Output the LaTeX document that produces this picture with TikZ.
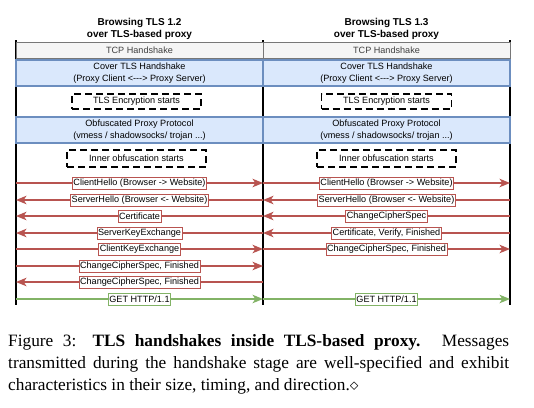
\documentclass[tikz,border=0pt]{standalone}
\usepackage{fontspec}
\setmainfont{Liberation Serif}
\setsansfont{Liberation Sans}
\usetikzlibrary{positioning,arrows.meta}
\definecolor{bandblue}{HTML}{DAE8FC}
\definecolor{bandedge}{HTML}{6C8EBF}
\definecolor{tcpfill}{HTML}{F5F5F5}
\definecolor{tcpedge}{HTML}{777777}
\definecolor{msgred}{HTML}{B85450}
\definecolor{msggreen}{HTML}{82B366}

\begin{document}
\begin{tikzpicture}[
  x=1pt, y=-1pt,
  font=\sffamily\fontsize{9.1}{11.6}\selectfont,
  life/.style={line width=1.6pt},
  tcp/.style={draw=tcpedge, fill=tcpfill, text=black!75, minimum width=247pt, minimum height=16pt, inner sep=0pt, line width=0.7pt},
  band/.style={draw=bandedge, fill=bandblue, minimum width=247pt, minimum height=26pt, inner sep=0pt, align=center, line width=1.2pt},
  stagebox/.style={draw, dash pattern=on 7pt off 4pt, line width=1.7pt, minimum height=15pt, inner sep=0pt},
  lbl/.style={draw=msgred, fill=white, inner sep=1pt, minimum height=12pt, line width=0.8pt},
  msg/.style={draw=msgred, line width=1.4pt, -{Stealth[length=10.5pt,width=8.5pt,inset=2.8pt]}},
  getmsg/.style={msg, draw=msggreen},
  getlbl/.style={lbl, draw=msggreen}
]
  \useasboundingbox (0,0) rectangle (534,407);

  % lifelines
  \coordinate (lA) at (16,40);
  \coordinate (lB) at (263,40);
  \coordinate (lC) at (510,40);
  \coordinate (lAe) at (16,305);
  \coordinate (lBe) at (263,305);
  \coordinate (lCe) at (510,305);
  \draw[life] (lA) -- (lAe);
  \draw[life] (lB) -- (lBe);
  \draw[life] (lC) -- (lCe);

  \node[font=\sffamily\bfseries\fontsize{10}{12}\selectfont, align=center] (titleA) at (139.5,29) {Browsing TLS 1.2\\over TLS-based proxy};
  \node[font=\sffamily\bfseries\fontsize{10}{12}\selectfont, align=center] (titleB) at (386.5,29) {Browsing TLS 1.3\\over TLS-based proxy};

  % stages
  \node[tcp] (tcpA) at (139.5,50) {TCP Handshake};
  \node[tcp] (tcpB) at (386.5,50) {TCP Handshake};
  \node[band] (coverA) at (139.5,73) {Cover TLS Handshake\\(Proxy Client <{-}{-}{-}> Proxy Server)};
  \node[band] (coverB) at (386.5,73) {Cover TLS Handshake\\(Proxy Client <{-}{-}{-}> Proxy Server)};
  \node[stagebox, minimum width=129pt] (encA) at (136.5,101.5) {TLS Encryption starts};
  \node[stagebox, minimum width=130pt] (encB) at (386.5,101.5) {TLS Encryption starts};
  \node[band] (obfA) at (139.5,130) {Obfuscated Proxy Protocol\\(vmess / shadowsocks/ trojan ...)};
  \node[band] (obfB) at (386.5,130) {Obfuscated Proxy Protocol\\(vmess / shadowsocks/ trojan ...)};
  \node[stagebox, minimum width=139pt, minimum height=17pt] (innA) at (136.5,158.5) {Inner obfuscation starts};
  \node[stagebox, minimum width=139pt, minimum height=17pt] (innB) at (386.5,158.5) {Inner obfuscation starts};

  % message rows
  \coordinate (r1) at (0,183);
  \coordinate (r2) at (0,200);
  \coordinate (r3) at (0,216);
  \coordinate (r4) at (0,233);
  \coordinate (r5) at (0,249);
  \coordinate (r6) at (0,266);
  \coordinate (r7) at (0,282);
  \coordinate (r8) at (0,299);

  % TLS 1.2
  \draw[msg] (lA |- r1) -- node[lbl] (chA) {ClientHello (Browser -> Website)} (lB |- r1);
  \draw[msg] (lB |- r2) -- node[lbl] (shA) {ServerHello (Browser <- Website)} (lA |- r2);
  \draw[msg] (lB |- r3) -- node[lbl] (certA) {Certificate} (lA |- r3);
  \draw[msg] (lB |- r4) -- node[lbl] (skeA) {ServerKeyExchange} (lA |- r4);
  \draw[msg] (lA |- r5) -- node[lbl] (ckeA) {ClientKeyExchange} (lB |- r5);
  \draw[msg] (lA |- r6) -- node[lbl] (ccsA) {ChangeCipherSpec, Finished} (lB |- r6);
  \draw[msg] (lB |- r7) -- node[lbl] (sccsA) {ChangeCipherSpec, Finished} (lA |- r7);
  \draw[getmsg] (lA |- r8) -- node[getlbl] (getA) {GET HTTP/1.1} (lB |- r8);

  % TLS 1.3
  \draw[msg] (lB |- r1) -- node[lbl] (chB) {ClientHello (Browser -> Website)} (lC |- r1);
  \draw[msg] (lC |- r2) -- node[lbl] (shB) {ServerHello (Browser <- Website)} (lB |- r2);
  \draw[msg] (lC |- r3) -- node[lbl] (sccsB) {ChangeCipherSpec} (lB |- r3);
  \draw[msg] (lC |- r4) -- node[lbl] (certB) {Certificate, Verify, Finished} (lB |- r4);
  \draw[msg] (lB |- r5) -- node[lbl] (ccsB) {ChangeCipherSpec, Finished} (lC |- r5);
  \draw[getmsg] (lB |- r8) -- node[getlbl] (getB) {GET HTTP/1.1} (lC |- r8);

  \node[anchor=north west, text width=501pt, align=justify, inner sep=0pt,
    font={\rmfamily\fontsize{17.3}{22}\selectfont\hyphenpenalty=10000\tolerance=9999\relax}] (caption) at (8,334)
    {Figure 3: \textbf{TLS handshakes inside TLS-based proxy.} Messages transmitted during the handshake stage are well-specified and exhibit characteristics in their size, timing, and direction.$\diamond$};
\end{tikzpicture}
\end{document}
